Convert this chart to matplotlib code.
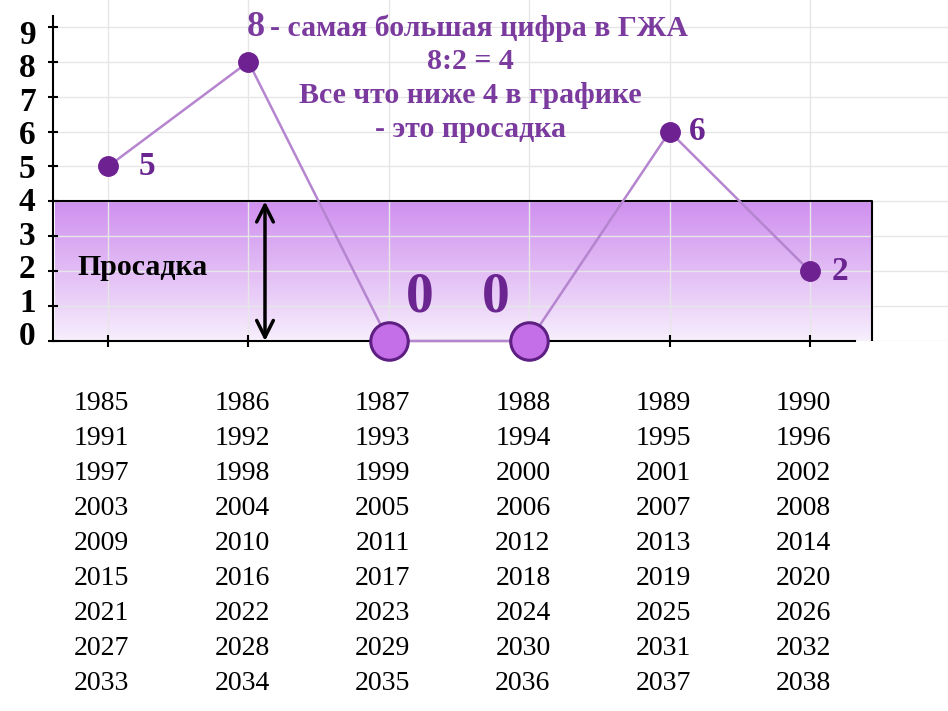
import numpy as np
import matplotlib.pyplot as plt
import matplotlib.transforms as mtransforms

# values of the chart
positions = [0, 1, 2, 3, 4, 5]
values = [5, 8, 0, 0, 6, 2]
point_labels = ["5", "", "0", "0", "6", "2"]
y_ticks = [0, 1, 2, 3, 4, 5, 6, 7, 8, 9]
drawdown_level = 4
years = [[1985 + 6 * r + c for c in range(6)] for r in range(9)]
title_lines = ["8:2 = 4", "Все что ниже 4 в графике", "- это просадка"]

serif = "Liberation Serif"
purple = "#6e2191"
label_purple = "#6a2590"
text_purple = "#7a3a9e"

fig = plt.figure(figsize=(9.48, 7.11), dpi=100)
# axes: x from pixel 53 to 948, y from pixel 0 to 341
ax = fig.add_axes([53 / 948, (711 - 341) / 711, 895 / 948, 341 / 711])
ax.set_xlim(-0.392, 5.983)
ax.set_ylim(0, 9.77)

# grid
for y in y_ticks:
    ax.axhline(y, color="#e6e6e6", lw=1, zorder=0.2)
for x in positions:
    ax.axvline(x, color="#e6e6e6", lw=1, zorder=0.2)

# drawdown zone with gradient
grad = np.linspace(0, 1, 256).reshape(-1, 1)
top = np.array([204, 136, 238]) / 255
bottom = np.array([248, 240, 253]) / 255
img = bottom + (top - bottom) * grad[:, :, None] ** 0.9
ax.imshow(img, extent=(-0.375, 5.44, 0, drawdown_level), origin="lower",
          aspect="auto", zorder=0.1, alpha=0.93)
ax.plot([-0.375, 5.44, 5.44], [drawdown_level, drawdown_level, 0],
        color="black", lw=1.5, zorder=1)

# line and points
ax.plot(positions, values, color="#b585cf", lw=1.8, zorder=3, clip_on=False)
for x, v in zip(positions, values):
    if v == 0:
        ax.plot(x, v, "o", ms=27, mfc="#c46ee8", mec="#5d1f82", mew=2.2,
                zorder=4, clip_on=False)
    else:
        ax.plot(x, v, "o", ms=14, color=purple, zorder=4)

# value labels
offsets = {0: (0.28, 0), 2: (0.22, 1.25), 3: (-0.24, 1.25), 4: (0.2, 0), 5: (0.21, 0)}
for i, (x, v, lab) in enumerate(zip(positions, values, point_labels)):
    if not lab:
        continue
    dx, dy = offsets[i]
    size = 40 if v == 0 else 24
    ax.text(x + dx, v + dy, lab, fontsize=size, fontweight="bold", family=serif,
            color=label_purple, ha="center", va="center")

# headline text
ax.text(1.05, 8.97, "8", fontsize=26, fontweight="bold", family=serif,
        color=text_purple, ha="center", va="center")
ax.text(1.155, 8.97, "- самая большая цифра в ГЖА", fontsize=21.5, fontweight="bold",
        family=serif, color=text_purple, ha="left", va="center")
for line, y in zip(title_lines, [8.02, 7.02, 6.07]):
    ax.text(2.58, y, line, fontsize=21.5, fontweight="bold", family=serif,
            color=text_purple, ha="center", va="center")

ax.text(-0.22, 2.1, "Просадка", fontsize=21.5, fontweight="bold", family=serif,
        color="black", ha="left", va="center")
ax.annotate("", xy=(1.118, 0), xytext=(1.118, drawdown_level),
            arrowprops=dict(arrowstyle="<->", lw=2.5, color="black",
                            mutation_scale=30, shrinkA=0, shrinkB=0), zorder=4)

# axes styling
for s in ["top", "right"]:
    ax.spines[s].set_visible(False)
ax.spines["left"].set_bounds(0, 9.3)
ax.spines["bottom"].set_bounds(-0.392, 5.32)
ax.spines["left"].set_linewidth(1.5)
ax.spines["bottom"].set_linewidth(1.5)
ax.set_yticks(y_ticks)
ax.set_yticklabels([str(t) for t in y_ticks], fontsize=24, fontweight="bold",
                   family=serif)
ax.set_xticks(positions)
ax.set_xticklabels([])
ax.tick_params(axis="y", direction="inout", length=7, width=1.5, pad=9)
ax.tick_params(axis="x", direction="inout", length=9, width=1.5)
# labels in the original sit a little closer together than the ticks
for t, lab in zip(y_ticks, ax.get_yticklabels()):
    shift = (-8 + 13 * t / 9) / 100
    lab.set_transform(lab.get_transform() +
                      mtransforms.ScaledTranslation(0, -shift, fig.dpi_scale_trans))

# years table under the axis
for r, row in enumerate(years):
    for c, yr in enumerate(row):
        ax.text(positions[c] - 0.045, -1.78 - r * 1.003, str(yr), fontsize=20,
                family=serif, color="black", ha="center", va="center", clip_on=False)

fig.savefig("out.png", dpi=100)
